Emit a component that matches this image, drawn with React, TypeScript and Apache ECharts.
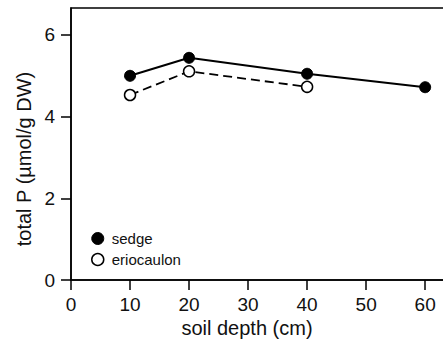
import React, { useEffect, useRef } from "react";
import * as echarts from "echarts";

const sedgeDepths = [10, 20, 40, 60];
const sedgeValues = [5.0, 5.44, 5.05, 4.72];
const erioDepths = [10, 20, 40];
const erioValues = [4.53, 5.11, 4.73];
const xTicks = [0, 10, 20, 30, 40, 50, 60];
const yTicks = [0, 2, 4, 6];

const FONT = "'Liberation Sans', Arial, sans-serif";

export default function App() {
  const ref = useRef<HTMLDivElement>(null);
  useEffect(() => {
    if (!ref.current) return;
    const chart = echarts.init(ref.current, undefined, { renderer: "svg" });
    chart.setOption({
      animation: false,
      backgroundColor: "#fff",
      textStyle: { fontFamily: FONT },
      grid: {
        left: 71,
        top: 8,
        width: 376,
        height: 272,
        show: true,
        borderColor: "#000",
        borderWidth: 1.5,
        outerBoundsMode: "none",
        containLabel: false,
      },
      legend: {
        orient: "vertical",
        left: 86,
        top: 226,
        itemWidth: 12,
        itemHeight: 12,
        itemGap: 6,
        icon: "circle",
        textStyle: { fontFamily: FONT, fontSize: 15, lineHeight: 14, color: "#111", padding: [0, 0, 0, 3] },
        data: [
          { name: "sedge", itemStyle: { color: "#000", borderColor: "#000", borderWidth: 1 } },
          { name: "eriocaulon", itemStyle: { color: "#fff", borderColor: "#000", borderWidth: 1.5 } },
        ],
      },
      xAxis: {
        type: "value",
        min: 0,
        max: 63.7,
        interval: 10,
        splitLine: { show: false },
        axisLine: { show: true, onZero: false, lineStyle: { color: "#000", width: 1.5 } },
        axisTick: { show: true, length: 10, customValues: xTicks, lineStyle: { color: "#000", width: 1.5 } },
        axisLabel: { customValues: xTicks, margin: 15, fontSize: 19, color: "#111", fontFamily: FONT },
      },
      yAxis: {
        type: "value",
        min: 0,
        max: 6.66,
        interval: 2,
        splitLine: { show: false },
        axisLine: { show: true, onZero: false, lineStyle: { color: "#000", width: 1.5 } },
        axisTick: { show: true, length: 10, customValues: yTicks, lineStyle: { color: "#000", width: 1.5 } },
        axisLabel: { customValues: yTicks, margin: 16, fontSize: 19, color: "#111", fontFamily: FONT },
      },
      graphic: [
        {
          type: "text",
          x: 24,
          y: 159,
          rotation: Math.PI / 2,
          style: {
            text: "total P (µmol/g DW)",
            fontSize: 20,
            fontFamily: FONT,
            fill: "#111",
            align: "center",
            verticalAlign: "middle",
          },
        },
        {
          type: "text",
          x: 247,
          y: 328,
          style: {
            text: "soil depth (cm)",
            fontSize: 20,
            fontFamily: FONT,
            fill: "#111",
            align: "center",
            verticalAlign: "middle",
          },
        },
      ],
      series: [
        {
          name: "sedge",
          type: "line",
          data: sedgeDepths.map((d, i) => [d, sedgeValues[i]]),
          symbol: "circle",
          symbolSize: 11,
          itemStyle: { color: "#000", borderColor: "#000", borderWidth: 1 },
          lineStyle: { color: "#000", width: 2 },
          z: 3,
        },
        {
          name: "eriocaulon",
          type: "line",
          data: erioDepths.map((d, i) => [d, erioValues[i]]),
          symbol: "circle",
          symbolSize: 11,
          itemStyle: { color: "#fff", borderColor: "#000", borderWidth: 1.5 },
          lineStyle: { color: "#000", width: 1.8, type: [9, 5] },
          z: 2,
        },
      ],
    });
    return () => chart.dispose();
  }, []);
  return <div ref={ref} style={{ width: 443, height: 343, position: "fixed", left: 0, top: 0 }} />;
}
